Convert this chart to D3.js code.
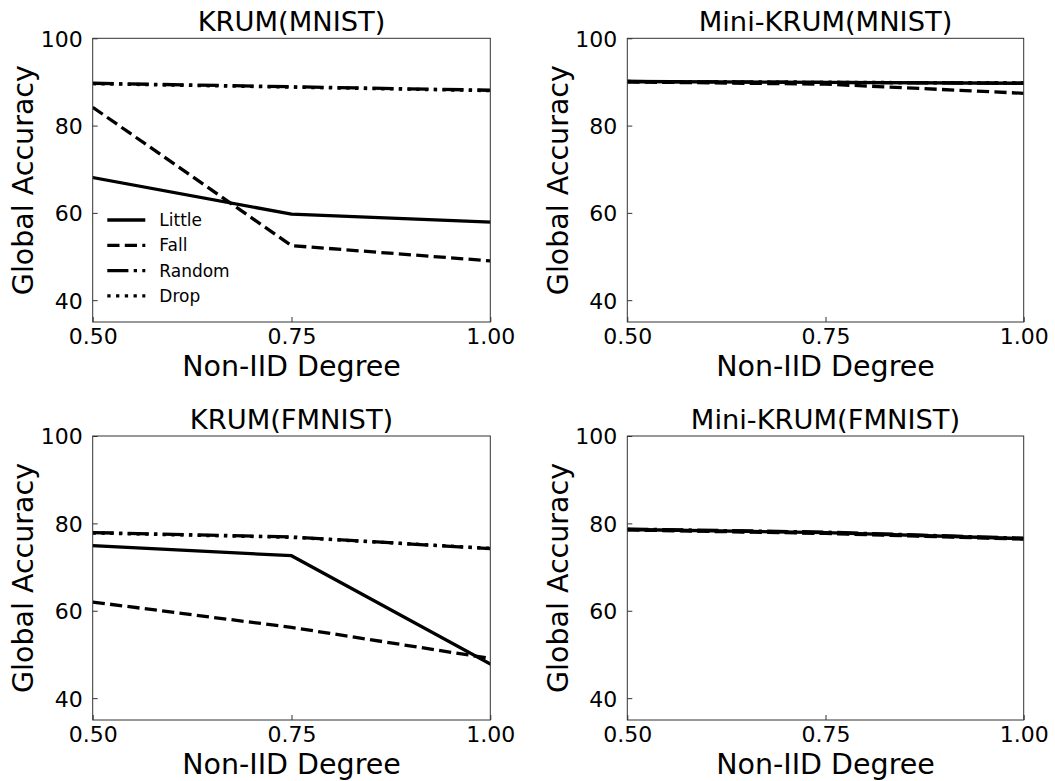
<!DOCTYPE html>
<html>
<head>
<meta charset="utf-8">
<script src="https://cdn.jsdelivr.net/npm/d3@7"></script>
<style>
  html, body { margin: 0; padding: 0; background: #fff; }
  svg { display: block; font-family: "DejaVu Sans", sans-serif; }
</style>
</head>
<body>
<svg id="chart" width="1055" height="781"></svg>
<script>
// Non-IID degree on the x axis
const categories = [0.5, 0.75, 1.0];
const xTicks = [0.5, 0.75, 1.0];
const yTicks = [40, 60, 80, 100];
const seriesNames = ["Little", "Fall", "Random", "Drop"];
const panelTitles = ["KRUM(MNIST)", "Mini-KRUM(MNIST)", "KRUM(FMNIST)", "Mini-KRUM(FMNIST)"];

// Global accuracy per attack, in the order Little, Fall, Random, Drop
const krumMnist = [
  [68.1, 59.7, 57.9],
  [84.2, 52.5, 49.0],
  [89.7, 88.9, 88.1],
  [89.6, 88.8, 88.0]
];
const miniKrumMnist = [
  [90.1, 89.9, 89.7],
  [90.0, 89.5, 87.4],
  [90.1, 89.9, 89.7],
  [90.1, 89.9, 89.8]
];
const krumFmnist = [
  [74.9, 72.6, 47.8],
  [62.0, 56.2, 49.1],
  [77.9, 76.9, 74.2],
  [77.8, 76.8, 74.3]
];
const miniKrumFmnist = [
  [78.6, 77.9, 76.5],
  [78.5, 77.7, 76.4],
  [78.7, 78.0, 76.6],
  [78.6, 77.8, 76.5]
];

const panelData = [krumMnist, miniKrumMnist, krumFmnist, miniKrumFmnist];

const lw = 3.3;
const dashes = [
  null,
  [3.7 * lw, 1.6 * lw].join(","),
  [6.4 * lw, 1.6 * lw, 1 * lw, 1.6 * lw].join(","),
  [1 * lw, 1.65 * lw].join(",")
];

const svg = d3.select("#chart");

const panels = [
  { left: 92.7, right: 490.3, top: 38.3, bottom: 322 },
  { left: 627.3, right: 1023.7, top: 38.3, bottom: 322 },
  { left: 92.7, right: 490.3, top: 436, bottom: 720 },
  { left: 627.3, right: 1023.7, top: 436, bottom: 720 }
];

panels.forEach((p, i) => {
  const x = d3.scaleLinear().domain([0.5, 1.0]).range([p.left, p.right]);
  const y = d3.scaleLinear().domain([35, 100]).range([p.bottom, p.top]);
  const g = svg.append("g");

  const clipId = "clip" + i;
  svg.append("defs").append("clipPath").attr("id", clipId)
    .append("rect")
    .attr("x", p.left).attr("y", p.top)
    .attr("width", p.right - p.left).attr("height", p.bottom - p.top);

  // axes with inward ticks
  const xAxis = d3.axisBottom(x).tickValues(xTicks).tickFormat(d3.format(".2f"))
    .tickSizeInner(-5).tickSizeOuter(0).tickPadding(6);
  const yAxis = d3.axisLeft(y).tickValues(yTicks).tickFormat(d3.format("d"))
    .tickSizeInner(-5).tickSizeOuter(0).tickPadding(10);

  const gx = g.append("g").attr("transform", `translate(0,${p.bottom})`).call(xAxis);
  const gy = g.append("g").attr("transform", `translate(${p.left},0)`).call(yAxis);
  [gx, gy].forEach(a => {
    a.select(".domain").remove();
    a.selectAll(".tick line").attr("stroke", "#333").attr("stroke-width", 1);
    a.selectAll(".tick text").attr("fill", "#000").attr("font-size", 22)
      .attr("font-family", "DejaVu Sans, sans-serif");
  });
  gy.selectAll(".tick text").attr("dy", "0.36em");

  // lines
  const line = d3.line().x((d, j) => x(categories[j])).y(d => y(d));
  const lines = g.append("g").attr("clip-path", `url(#${clipId})`);
  panelData[i].forEach((vals, s) => {
    lines.append("path")
      .datum(vals)
      .attr("d", line)
      .attr("fill", "none")
      .attr("stroke", "#000")
      .attr("stroke-width", lw)
      .attr("stroke-linejoin", "round")
      .attr("stroke-linecap", s === 0 ? "square" : "butt")
      .attr("stroke-dasharray", dashes[s]);
  });

  // frame
  g.append("rect")
    .attr("x", p.left).attr("y", p.top)
    .attr("width", p.right - p.left).attr("height", p.bottom - p.top)
    .attr("fill", "none").attr("stroke", "#333").attr("stroke-width", 1);

  // title
  g.append("text")
    .attr("x", (p.left + p.right) / 2).attr("y", p.top - 7.5)
    .attr("text-anchor", "middle").attr("font-size", 27.3)
    .text(panelTitles[i]);

  // axis labels
  g.append("text")
    .attr("x", (p.left + p.right) / 2).attr("y", p.bottom + 53.5)
    .attr("text-anchor", "middle").attr("font-size", 28.5)
    .text("Non-IID Degree");
  g.append("text")
    .attr("transform", `translate(${p.left - 59.5},${(p.top + p.bottom) / 2}) rotate(-90)`)
    .attr("text-anchor", "middle").attr("font-size", 28.5)
    .text("Global Accuracy");

  // legend in the first panel
  if (i === 0) {
    const lg = g.append("g");
    seriesNames.forEach((name, s) => {
      const yy = 220 + s * 25.3;
      lg.append("line")
        .attr("x1", 107.3).attr("x2", 145.3)
        .attr("y1", yy).attr("y2", yy)
        .attr("stroke", "#000").attr("stroke-width", lw)
        .attr("stroke-linecap", "butt")
        .attr("stroke-dasharray", dashes[s]);
      lg.append("text")
        .attr("x", 159.3).attr("y", yy).attr("dy", "0.36em")
        .attr("font-size", 17).text(name);
    });
  }
});
</script>
</body>
</html>
